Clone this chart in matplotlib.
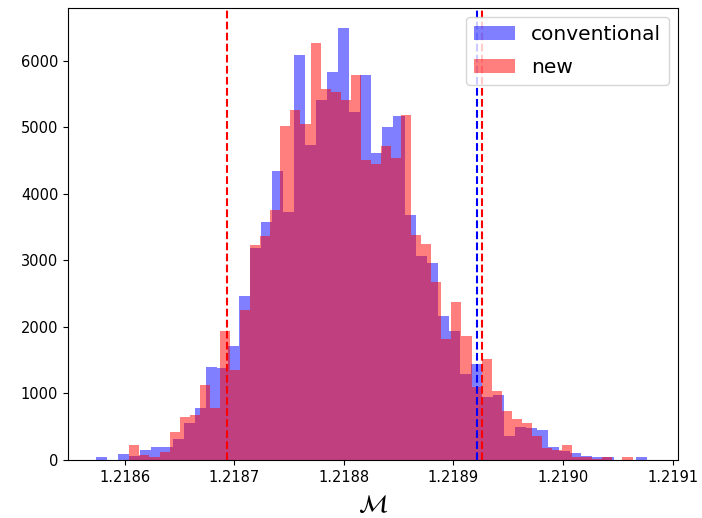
import numpy as np
import matplotlib
matplotlib.use("Agg")
import matplotlib.pyplot as plt

# Posterior samples of the chirp mass, binned into 50 bins per method
conv_range = (1.21857355, 1.21907693)
conv_counts = [40, 5, 95, 65, 150, 190, 190, 315, 550, 775,
               1400, 1375, 1710, 2470, 3185, 3575, 4340, 3725, 6090, 4735,
               5415, 5825, 6485, 5230, 5785, 4605, 5005, 5165, 3680, 3070,
               2965, 2165, 1945, 1290, 1440, 950, 975, 360, 500, 480,
               450, 190, 140, 100, 60, 40, 40, 0, 5, 40]

new_range = (1.21860438, 1.21906352)
new_counts = [225, 75, 40, 125, 425, 650, 675, 1125, 775, 1935,
              1350, 2250, 3235, 3365, 3750, 5010, 5260, 5050, 6265, 5570,
              5530, 5410, 5785, 4505, 4445, 4720, 4540, 5180, 3380, 3245,
              2680, 1815, 2380, 1865, 1100, 1510, 1040, 740, 610, 550,
              360, 175, 150, 225, 40, 40, 10, 40, 0, 40]

# Reference estimates (dashed vertical markers)
new_low = 1.21869329
conv_high = 1.21892163
new_high = 1.21892583

labels = ["conventional", "new"]


def edges_and_centers(rng, counts):
    edges = np.linspace(rng[0], rng[1], len(counts) + 1)
    centers = 0.5 * (edges[:-1] + edges[1:])
    return edges, centers


fig = plt.figure(figsize=(7.02, 5.18), dpi=100)
ax = fig.add_axes([68 / 702, 58 / 518, 610 / 702, 452 / 518])

e1, c1 = edges_and_centers(conv_range, conv_counts)
e2, c2 = edges_and_centers(new_range, new_counts)
ax.hist(c1, bins=e1, weights=conv_counts, color="b", alpha=0.5, label=labels[0])
ax.hist(c2, bins=e2, weights=new_counts, color="r", alpha=0.5, label=labels[1])

ax.axvline(conv_high, color="b", linestyle="--")
ax.axvline(new_low, color="r", linestyle="--")
ax.axvline(new_high, color="r", linestyle="--")

ax.xaxis.set_major_formatter(matplotlib.ticker.FormatStrFormatter("%.4f"))
ax.set_xticks([1.2186, 1.2187, 1.2188, 1.2189, 1.2190, 1.2191])
ax.tick_params(labelsize=10.5)
ax.set_xlim(1.21854838, 1.21910500)
ax.set_ylim(0, 6790)
ax.set_xlabel(r"$\mathcal{M}$", fontsize=18, labelpad=6)
ax.legend(loc="upper right", fontsize=14.5, labelspacing=0.7,
          borderaxespad=0.45)

fig.savefig("out.png", dpi=100)
